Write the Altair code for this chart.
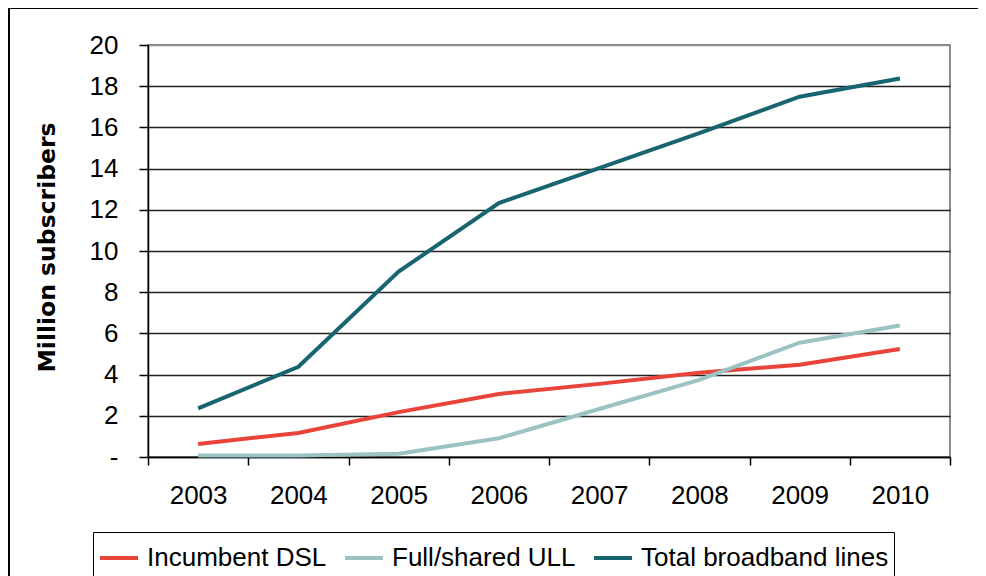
import altair as alt
import pandas as pd

years = [2003, 2004, 2005, 2006, 2007, 2008, 2009, 2010]
incumbent_dsl = [0.63, 1.17, 2.18, 3.06, 3.55, 4.09, 4.48, 5.24]
full_shared_ull = [0.07, 0.07, 0.16, 0.91, 2.33, 3.74, 5.55, 6.38]
total_broadband = [2.36, 4.38, 9.0, 12.33, 14.02, 15.72, 17.49, 18.37]

series_names = ["Incumbent DSL", "Full/shared ULL", "Total broadband lines"]
series_colors = ["#E9443A", "#9BC3C3", "#18656F"]
y_ticks = [0, 2, 4, 6, 8, 10, 12, 14, 16, 18, 20]
x_ticks = [2002.5 + 0.5 * i for i in range(17)]

rows = []
for name, vals in zip(series_names, [incumbent_dsl, full_shared_ull, total_broadband]):
    for yr, v in zip(years, vals):
        rows.append({"Year": yr, "Value": v, "Series": name, "order": series_names.index(name)})
df = pd.DataFrame(rows)

FONT = "Liberation Sans"

lines = alt.Chart(df).mark_line(strokeWidth=4).encode(
    x=alt.X(
        "Year:Q",
        scale=alt.Scale(domain=[2002.5, 2010.5], nice=False, zero=False),
        axis=alt.Axis(
            title=None,
            values=x_ticks,
            labelExpr="datum.value % 1 === 0 ? '' + datum.value : ''",
            tickOpacity={"condition": {"test": "datum.value % 1 === 0", "value": 0}, "value": 1},
            tickSize=8,
            tickWidth=1.5,
            tickColor="#000000",
            domainColor="#000000",
            domainWidth=1.5,
            grid=False,
            labelFont=FONT,
            labelFontSize=26,
            labelColor="#000000",
            labelPadding=17,
            labelFlush=False,
            labelOverlap=False,
        ),
    ),
    y=alt.Y(
        "Value:Q",
        scale=alt.Scale(domain=[0, 20], nice=False),
        axis=alt.Axis(
            title="Million subscribers",
            values=y_ticks,
            labelExpr="datum.value === 0 ? '-' : datum.label",
            tickSize=9,
            tickWidth=1.5,
            tickColor="#000000",
            domainColor="#000000",
            domainWidth=1.5,
            grid=True,
            gridColor={"condition": {"test": "datum.value === 20", "value": "#8c8c8c"}, "value": "#222222"},
            gridWidth=1.5,
            labelFont=FONT,
            labelFontSize=26,
            labelColor="#000000",
            labelPadding=21,
            labelOverlap=False,
            titleFont="DejaVu Sans",
            titleFontSize=23.5,
            titleFontWeight="bold",
            titleColor="#000000",
            titleAngle=-90,
            titleX=-101,
            titleY=202,
            titleAlign="center",
            titleBaseline="middle",
        ),
    ),
    color=alt.Color(
        "Series:N",
        scale=alt.Scale(domain=series_names, range=series_colors),
        legend=alt.Legend(
            title=None,
            orient="none",
            legendX=-55,
            legendY=487,
            direction="horizontal",
            strokeColor="#000000",
            padding=5,
            symbolType="stroke",
            symbolStrokeWidth=4,
            symbolSize=1444,
            labelFont=FONT,
            labelFontSize=26,
            labelColor="#000000",
            labelOffset=7,
            labelLimit=400,
            columnPadding=10,
            offset=0,
        ),
    ),
    order="order:Q",
)

frame = alt.Chart(pd.DataFrame({"a": [0]})).mark_rect(
    fill="transparent", stroke="#000000", strokeWidth=2
).encode(
    x=alt.value(-139),
    x2=alt.value(840),
    y=alt.value(-37),
    y2=alt.value(600),
)

chart = alt.layer(frame, lines).properties(
    width=802,
    height=412,
    autosize=alt.AutoSizeParams(type="none"),
    padding={"left": 140, "top": 37, "right": 28, "bottom": 119},
    background="#ffffff",
).configure_view(stroke="#8c8c8c", strokeWidth=2)

chart.save("out.html", embed_options={"renderer": "svg", "actions": False})
